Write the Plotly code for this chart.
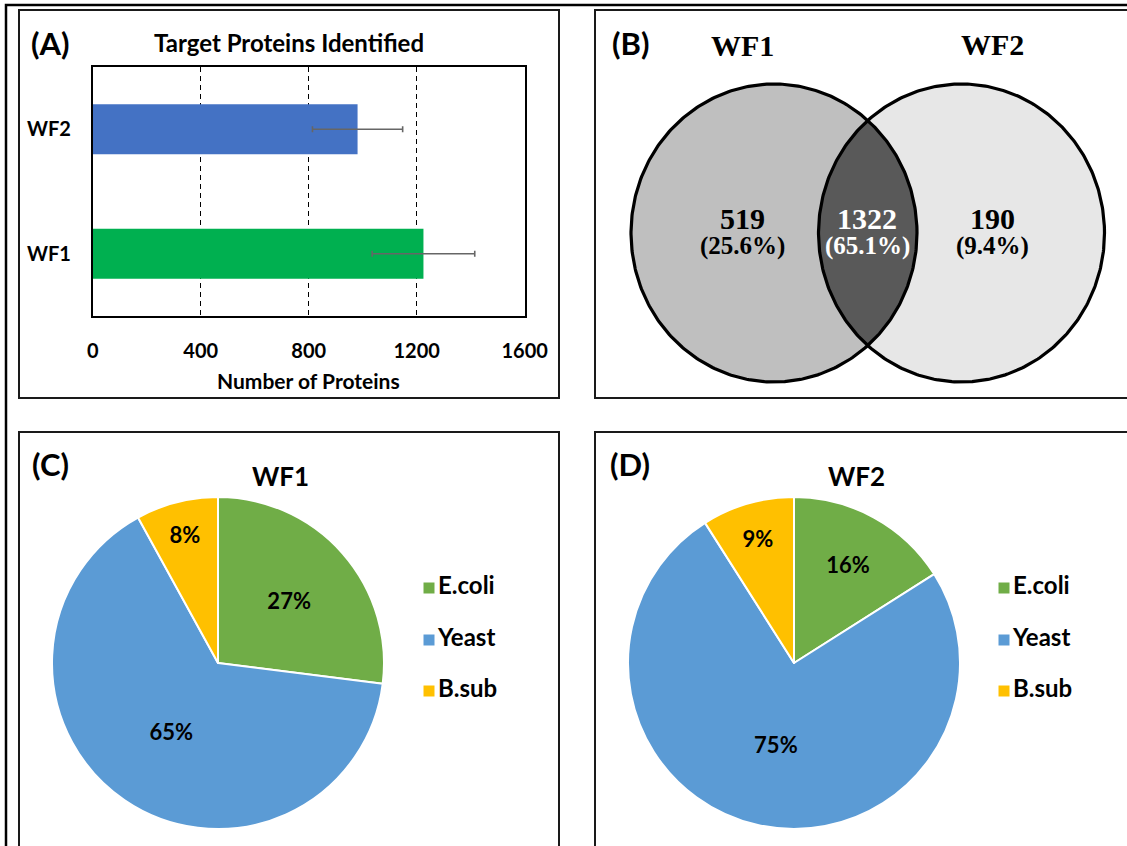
import numpy as np
import plotly.graph_objects as go

W, H = 1127, 846

# ---------------- data ----------------
# Panel A: target proteins identified
bar_categories = ["WF1", "WF2"]
bar_values = [1225, 981]
bar_errors = [190, 167]
bar_colors = ["#00B050", "#4472C4"]
x_tickvals = [0, 400, 800, 1200, 1600]

# Panel B: Venn diagram
venn_sets = ["WF1", "WF2"]
venn_counts = [519, 1322, 190]          # WF1 only, shared, WF2 only

# Panels C / D: species composition (%)
species = ["E.coli", "Yeast", "B.sub"]
species_colors = ["#70AD47", "#5B9BD5", "#FFC000"]
wf1_share = [27, 65, 8]
wf2_share = [16, 75, 9]
pie_titles = ["WF1", "WF2"]

# ---------------- helpers ----------------
def px(x):
    return x / W

def py(y):
    return 1 - y / H

SANS = "Lato"
SERIF = "Liberation Serif"

fig = go.Figure()

# ---------------- Panel A: bar chart ----------------
fig.add_trace(go.Bar(
    y=bar_categories, x=bar_values, orientation="h",
    marker=dict(color=bar_colors, line=dict(width=0)),
    width=0.4,
    error_x=dict(type="data", array=bar_errors, color="#666666", thickness=1.6, width=3),
    xaxis="x", yaxis="y", showlegend=False, hoverinfo="skip",
))

# ---------------- Panel B: Venn (pixel axis x3/y3) ----------------
cL, cR, cy, rx, ry = 774.0, 961.5, 233.0, 143.0, 149.0
t = np.linspace(0, 2 * np.pi, 400)
lx, ly = cL + rx * np.cos(t), cy + ry * np.sin(t)
rxs, rys = cR + rx * np.cos(t), cy + ry * np.sin(t)
phi = np.arccos(((cR - cL) / 2) / rx)
t1 = np.linspace(-phi, phi, 120)
t2 = np.linspace(np.pi - phi, np.pi + phi, 120)
lens_x = np.concatenate([cL + rx * np.cos(t1), cR + rx * np.cos(t2)])
lens_y = np.concatenate([cy + ry * np.sin(t1), cy + ry * np.sin(t2)])

for xs, ys, col in [(lx, ly, "#BFBFBF"), (rxs, rys, "#E7E7E7"), (lens_x, lens_y, "#595959")]:
    fig.add_trace(go.Scatter(x=xs, y=ys, mode="lines", fill="toself", fillcolor=col,
                             line=dict(width=0, color=col), xaxis="x3", yaxis="y3",
                             showlegend=False, hoverinfo="skip"))
for xs, ys in [(lx, ly), (rxs, rys)]:
    fig.add_trace(go.Scatter(x=xs, y=ys, mode="lines", line=dict(width=3.2, color="black"),
                             xaxis="x3", yaxis="y3", showlegend=False, hoverinfo="skip"))

# ---------------- Panels C/D: pies ----------------
pie_centers = [(218, 663), (794, 663)]
R = 166
for share, (cx, cyy) in zip([wf1_share, wf2_share], pie_centers):
    fig.add_trace(go.Pie(
        labels=species, values=share, sort=False, direction="clockwise", rotation=0,
        marker=dict(colors=species_colors, line=dict(color="white", width=2)),
        texttemplate="%{percent:.0%}", textposition="inside",
        insidetextorientation="horizontal",
        textfont=dict(family=SANS, size=22, color="black", weight="bold"),
        domain=dict(x=[px(cx - R), px(cx + R)], y=[py(cyy + R), py(cyy - R)]),
        showlegend=False, hoverinfo="skip", automargin=False,
    ))

# legends for pies (drawn as markers + text on pixel axis)
legend_x = [429, 1004]
legend_rows = [588, 640, 691]
for lxp in legend_x:
    fig.add_trace(go.Scatter(
        x=[lxp] * len(species), y=legend_rows, mode="markers",
        marker=dict(symbol="square", size=11, color=species_colors),
        xaxis="x3", yaxis="y3", showlegend=False, hoverinfo="skip"))
    fig.add_trace(go.Scatter(
        x=[lxp + 9] * len(species), y=legend_rows, mode="text", text=species,
        textposition="middle right",
        textfont=dict(family=SANS, size=24, color="black", weight="bold"),
        xaxis="x3", yaxis="y3", showlegend=False, hoverinfo="skip"))

# ---------------- annotations ----------------
ann = []

def label(x, y, text, size, family=SANS, color="black", weight="bold"):
    ann.append(dict(x=x, y=y, xref="x3", yref="y3", text=text, showarrow=False,
                    xanchor="center", yanchor="middle",
                    font=dict(family=family, size=size, color=color, weight=weight)))

label(50, 43, "(A)", 31)
label(289, 42, "Target Proteins Identified", 24)
label(308.7, 380, "Number of Proteins", 21)

label(630, 43, "(B)", 31)
label(742, 45, venn_sets[0], 30, family=SERIF)
label(992, 44, venn_sets[1], 30, family=SERIF)
total = sum(venn_counts)
venn_pos = [742, 867, 992]
venn_colors = ["black", "white", "black"]
for cnt, xpos, col in zip(venn_counts, venn_pos, venn_colors):
    label(xpos, 218, str(cnt), 30, family=SERIF, color=col)
    label(xpos, 246, "(%.1f%%)" % (100 * cnt / total), 25, family=SERIF, color=col)

label(50, 464, "(C)", 31)
label(280, 476, pie_titles[0], 26)
label(630, 464, "(D)", 31)
label(856, 476, pie_titles[1], 26)

# ---------------- frames ----------------
shapes = [
    dict(type="rect", xref="x3", yref="y3", x0=6, y0=5, x1=1160, y1=880,
         line=dict(color="black", width=2.5)),
]
for (x0, y0, x1, y1) in [(19, 10, 559, 398), (595, 10, 1160, 398),
                         (19, 432, 559, 880), (595, 432, 1160, 880)]:
    shapes.append(dict(type="rect", xref="x3", yref="y3", x0=x0, y0=y0, x1=x1, y1=y1,
                       line=dict(color="#1a1a1a", width=2)))

fig.update_layout(
    width=W, height=H, autosize=False,
    margin=dict(l=0, r=0, t=0, b=0, pad=0, autoexpand=False),
    paper_bgcolor="white", plot_bgcolor="rgba(0,0,0,0)",
    xaxis=dict(domain=[px(92.7), px(524.7)], range=[0, 1600], tickvals=x_tickvals,
               showgrid=True, gridcolor="black", gridwidth=1.3, griddash="5px,4px",
               showline=True, mirror=True, linecolor="black", linewidth=1.5,
               zeroline=False, ticks="outside", ticklen=16, tickcolor="rgba(0,0,0,0)",
               tickfont=dict(family=SANS, size=20, color="black", weight="bold"),
               anchor="y", fixedrange=True, automargin=False),
    yaxis=dict(domain=[py(316), py(67)], type="category", categoryarray=bar_categories,
               range=[-0.5, 1.5], showline=True, mirror=True, linecolor="black",
               linewidth=1.5, showgrid=False, ticks="outside", ticklen=16,
               tickcolor="rgba(0,0,0,0)",
               tickfont=dict(family=SANS, size=20, color="black", weight="bold"),
               anchor="x", fixedrange=True, automargin=False),
    xaxis3=dict(domain=[0, 1], range=[0, W], visible=False, anchor="y3",
                fixedrange=True, automargin=False),
    yaxis3=dict(domain=[0, 1], range=[H, 0], visible=False, anchor="x3",
                fixedrange=True, automargin=False),
    annotations=ann, shapes=shapes, showlegend=False,
)

post = (
    "document.documentElement.style.margin='0';"
    "document.body.style.margin='0';"
    "document.body.style.padding='0';"
    "document.documentElement.style.overflow='hidden';"
    "document.body.style.overflow='hidden';"
    "var gd=document.getElementById('{plot_id}');"
    "gd.style.width='1127px';gd.style.height='846px';"
    "Plotly.relayout(gd,{width:1127,height:846});"
)

fig.write_html("out.html", config={"responsive": False, "displayModeBar": False},
               post_script=post)
